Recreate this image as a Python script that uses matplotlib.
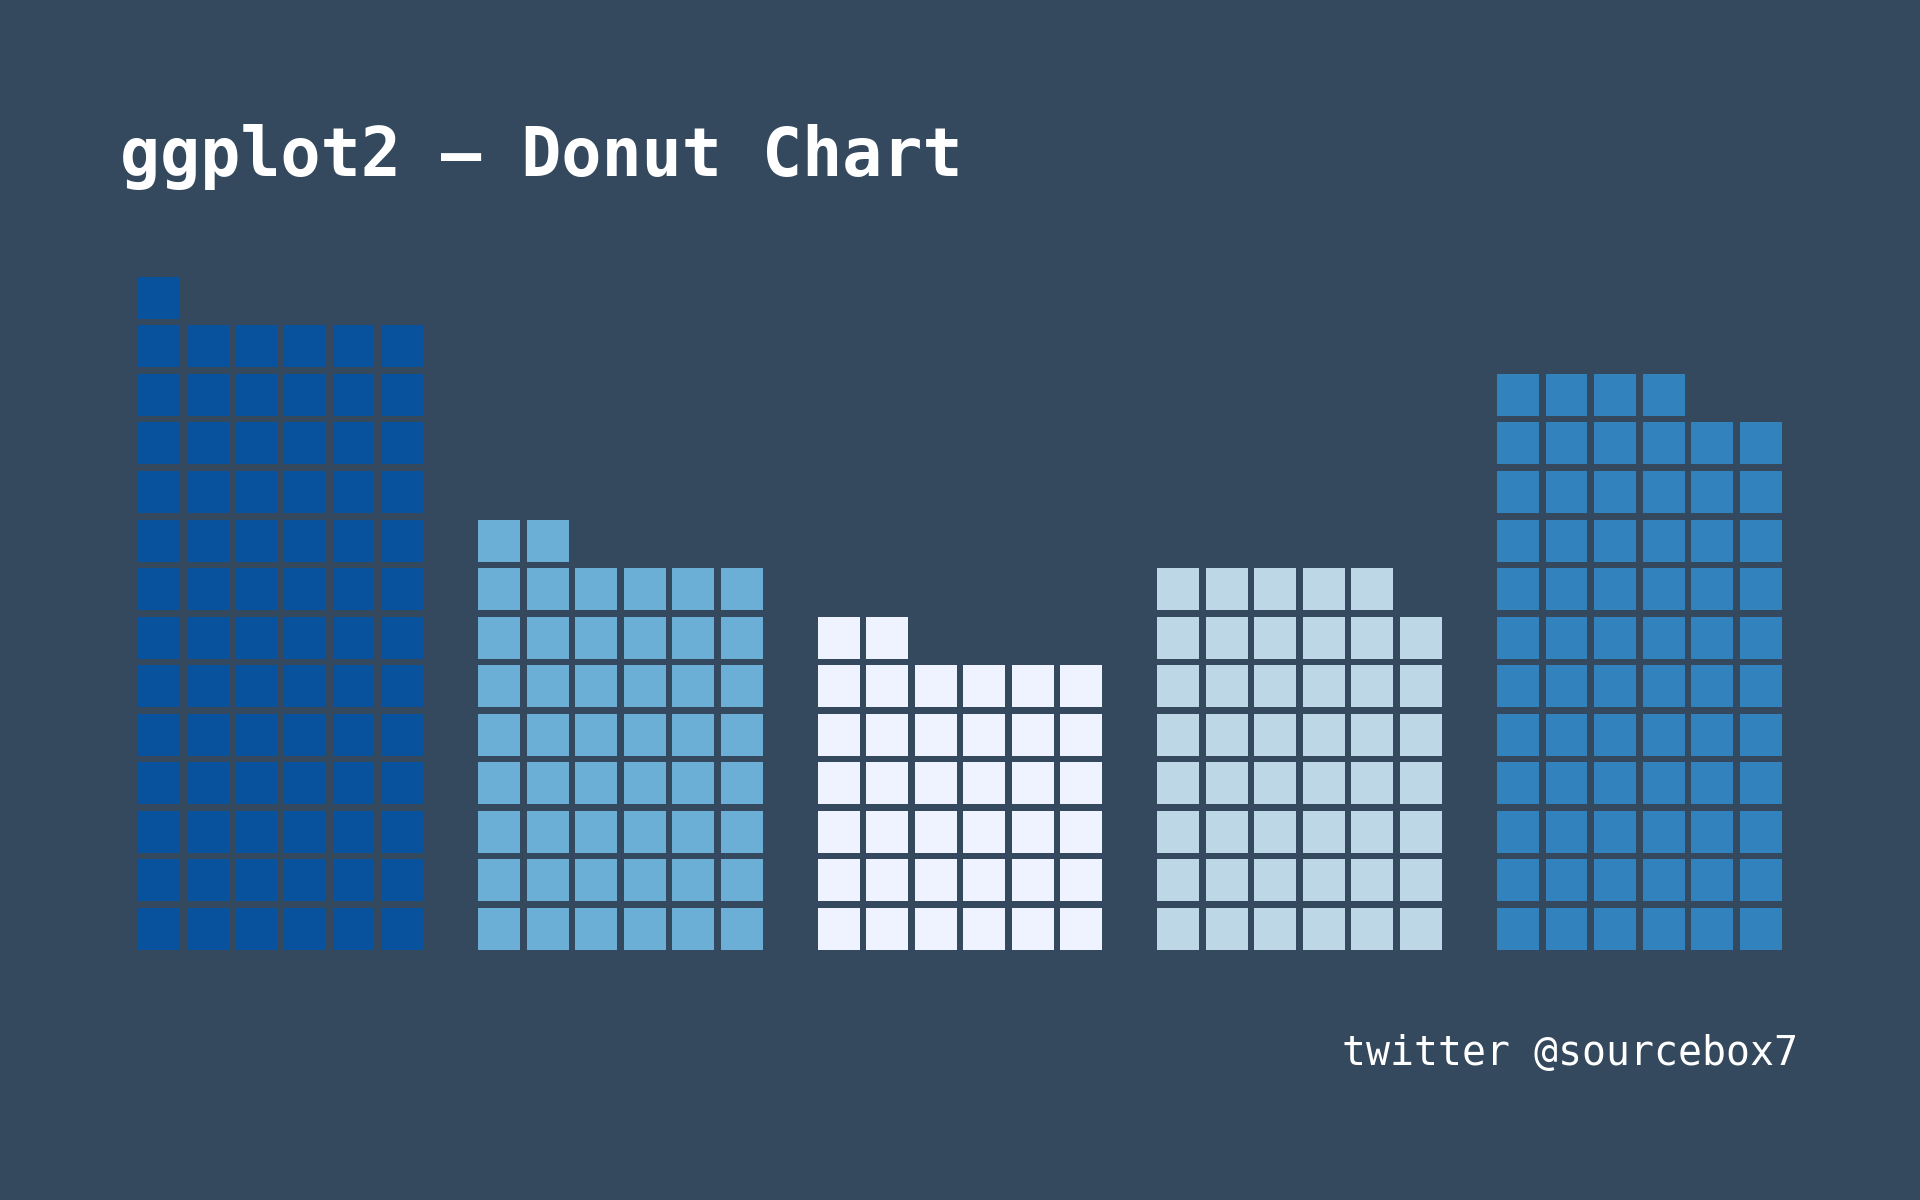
import matplotlib
matplotlib.use("Agg")
import matplotlib.pyplot as plt
from matplotlib.patches import Rectangle

# waffle counts per group (6 squares per row, filled from bottom-left)
groups = ["A", "B", "C", "D", "E"]
counts = [79, 50, 38, 47, 70]
colors = ["#08519C", "#6BAED6", "#EFF3FF", "#BDD7E7", "#3182BD"]
n_cols = 6
bg = "#34495E"

fig = plt.figure(figsize=(19.2, 12), dpi=100, facecolor=bg)
ax = fig.add_axes([0.0704, 0.2056, 0.8592, 0.5665])
ax.set_facecolor(bg)

size = 0.865
for g, (n, col) in enumerate(zip(counts, colors)):
    x0 = g * (n_cols + 1)
    for k in range(n):
        r, c = divmod(k, n_cols)
        ax.add_patch(Rectangle((x0 + c - size / 2, r - size / 2), size, size,
                               facecolor=col, edgecolor="none"))

ax.set_xlim(-0.5, len(counts) * (n_cols + 1) - 1 - 0.5)
ax.set_ylim(-0.5, 13.5)
ax.axis("off")

fig.text(0.0625, 0.853, "ggplot2 – Donut Chart", color="white",
         family="DejaVu Sans Mono", weight="bold", fontsize=48, va="baseline")
fig.text(0.9365, 0.1125, "twitter @sourcebox7", color="white",
         family="DejaVu Sans Mono", fontsize=28.7, ha="right", va="baseline")

fig.savefig("out.png", dpi=100, facecolor=bg)
